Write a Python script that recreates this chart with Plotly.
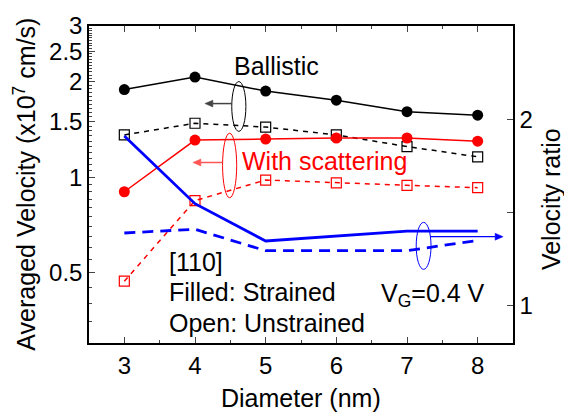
import plotly.graph_objects as go
import numpy as np

diameter = [3, 4, 5, 6, 7, 8]
ballistic_strained = [1.89, 2.07, 1.87, 1.75, 1.61, 1.57]
ballistic_unstrained = [1.36, 1.48, 1.44, 1.36, 1.25, 1.16]
scatter_strained = [0.90, 1.31, 1.32, 1.33, 1.33, 1.30]
scatter_unstrained = [0.47, 0.844, 0.98, 0.96, 0.943, 0.927]
ratio_scatter = [1.91, 1.547, 1.347, 1.372, 1.40, 1.40]
ratio_ballistic = [1.39, 1.41, 1.295, 1.295, 1.295, 1.35]

left_ticks = [0.5, 1, 1.5, 2, 2.5, 3]
right_ticks = [1, 2]

FONT = "Liberation Sans, Arial, sans-serif"
BLACK, RED, BLUE = "#000000", "#ff0000", "#0000ff"
TXT = 25
TICK = 24

fig = go.Figure()

fig.add_trace(go.Scatter(x=diameter, y=ballistic_strained, mode="lines+markers",
                         line=dict(color=BLACK, width=1.5),
                         marker=dict(symbol="circle", size=11, color=BLACK)))
fig.add_trace(go.Scatter(x=diameter, y=ballistic_unstrained, mode="lines+markers",
                         line=dict(color=BLACK, width=1.5, dash="5px,5px"),
                         marker=dict(symbol="square-open", size=10, color=BLACK,
                                     line=dict(width=1.2))))
fig.add_trace(go.Scatter(x=diameter, y=scatter_strained, mode="lines+markers",
                         line=dict(color=RED, width=1.5),
                         marker=dict(symbol="circle", size=11, color=RED)))
fig.add_trace(go.Scatter(x=diameter, y=scatter_unstrained, mode="lines+markers",
                         line=dict(color=RED, width=1.5, dash="5px,5px"),
                         marker=dict(symbol="square-open", size=10, color=RED,
                                     line=dict(width=1.2))))
fig.add_trace(go.Scatter(x=diameter, y=ratio_scatter, mode="lines", yaxis="y2",
                         line=dict(color=BLUE, width=2.8)))
fig.add_trace(go.Scatter(x=diameter, y=ratio_ballistic, mode="lines", yaxis="y2",
                         line=dict(color=BLUE, width=2.8, dash="11px,7px")))

minor_left = [round(v, 2) for v in np.arange(0.3, 3.001, 0.05) if round(v, 2) not in left_ticks]

fig.update_layout(
    width=564, height=415,
    margin=dict(l=89, r=51, t=20, b=72),
    paper_bgcolor="white", plot_bgcolor="white",
    showlegend=False,
    font=dict(family=FONT, size=TICK, color="black"),
    xaxis=dict(range=[2.5, 8.5], tickvals=diameter, ticks="inside", ticklen=6,
               tickwidth=1.2, showline=True, linecolor="black", linewidth=1.5,
               mirror="ticks", showgrid=False, zeroline=False,
               tickfont=dict(size=TICK),
               minor=dict(tickvals=[3.5, 4.5, 5.5, 6.5, 7.5], ticks="inside",
                          ticklen=3, tickwidth=1.2)),
    yaxis=dict(type="log", range=[np.log10(0.3), np.log10(3)], tickvals=left_ticks,
               ticktext=[str(v) for v in left_ticks], ticks="inside", ticklen=6,
               tickwidth=1.2, showline=True, linecolor="black", linewidth=1.5,
               showgrid=False, zeroline=False, tickfont=dict(size=TICK),
               minor=dict(tickvals=minor_left, ticks="inside", ticklen=3,
                          tickwidth=1)),
    yaxis2=dict(overlaying="y", side="right", range=[0.8, 2.5], tickvals=right_ticks,
                ticks="inside", ticklen=6, tickwidth=1.2, showline=True,
                linecolor="black", linewidth=1.5, showgrid=False, zeroline=False,
                tickfont=dict(size=TICK),
                minor=dict(tickvals=[1.5], ticks="inside", ticklen=6, tickwidth=1.2)),
)

ann = []
ann.append(dict(text="Averaged Velocity (x10<sup>7</sup> cm/s)", xref="paper", yref="paper",
                x=-0.153, y=0.5, textangle=-90, showarrow=False,
                xanchor="center", yanchor="middle", font=dict(size=TXT)))
ann.append(dict(text="Velocity ratio", xref="paper", yref="paper", x=1.088, y=0.455,
                textangle=-90, showarrow=False, xanchor="center", yanchor="middle",
                font=dict(size=TXT)))
ann.append(dict(text="Diameter (nm)", xref="paper", yref="paper", x=0.5, y=-0.172,
                showarrow=False, xanchor="center", yanchor="middle", font=dict(size=TXT)))
ann.append(dict(text="Ballistic", xref="x", yref="paper", x=5.156, y=0.873,
                showarrow=False, xanchor="center", yanchor="middle", font=dict(size=TXT)))
ann.append(dict(text="With scattering", xref="x", yref="paper", x=4.64, y=0.573,
                showarrow=False, xanchor="left", yanchor="middle",
                font=dict(size=TXT, color=RED)))
ann.append(dict(text="[110]", xref="x", yref="paper", x=3.6, y=0.257,
                showarrow=False, xanchor="left", yanchor="middle", font=dict(size=TXT)))
ann.append(dict(text="Filled: Strained", xref="x", yref="paper", x=3.6, y=0.162,
                showarrow=False, xanchor="left", yanchor="middle", font=dict(size=TXT)))
ann.append(dict(text="Open: Unstrained", xref="x", yref="paper", x=3.6, y=0.062,
                showarrow=False, xanchor="left", yanchor="middle", font=dict(size=TXT)))
ann.append(dict(text="V<sub>G</sub>=0.4 V", xref="x", yref="paper", x=6.6, y=0.15,
                showarrow=False, xanchor="left", yanchor="middle", font=dict(size=TXT)))
fig.update_layout(annotations=ann)

# 1 px in data units
PX_X = 1 / 70.67
PX_Y = 1 / 190.0


def arrow(x_tail, x_head, y, color, width):
    d = 1 if x_head > x_tail else -1
    hl = 8 * PX_X
    hw = 3.5 * PX_Y
    base = x_head - d * hl
    return [
        dict(type="line", xref="x", yref="y2", x0=x_tail, x1=base, y0=y, y1=y,
             line=dict(color=color, width=width)),
        dict(type="path", xref="x", yref="y2",
             path=f"M {x_head} {y} L {base} {y + hw} L {base} {y - hw} Z",
             fillcolor=color, line=dict(color=color, width=0.5)),
    ]


shapes = [
    dict(type="circle", xref="x", yref="y2", x0=4.52, x1=4.72, y0=1.935, y1=2.202,
         line=dict(color=BLACK, width=1)),
    dict(type="circle", xref="x", yref="y2", x0=4.39, x1=4.59, y0=1.579, y1=1.925,
         line=dict(color=RED, width=1)),
    dict(type="circle", xref="x", yref="y2", x0=7.13, x1=7.34, y0=1.195, y1=1.447,
         line=dict(color=BLUE, width=1)),
]
shapes += arrow(4.52, 4.14, 2.084, "#444444", 1.5)
shapes += arrow(4.39, 3.97, 1.768, "#ff5555", 1.5)
shapes += arrow(7.33, 8.36, 1.37, BLUE, 1.2)
fig.update_layout(shapes=shapes)

fig.write_html("out.html")
